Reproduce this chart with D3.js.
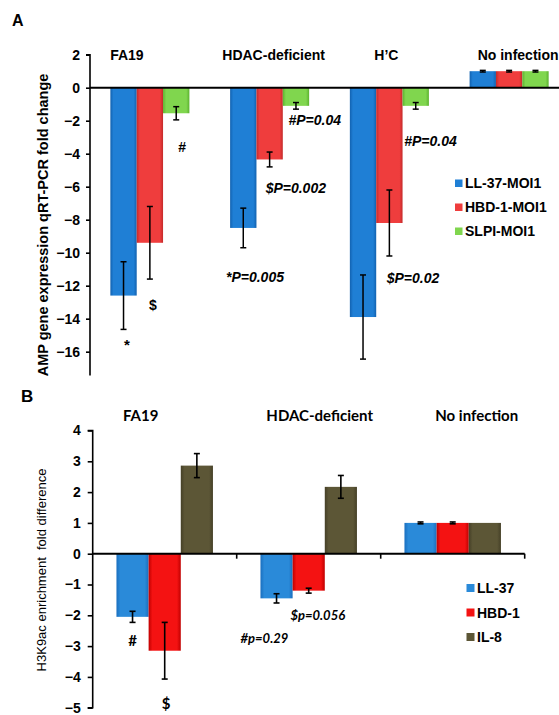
<!DOCTYPE html>
<html><head><meta charset="utf-8">
<script src="https://cdn.jsdelivr.net/npm/d3@7"></script>
<style>body{margin:0;background:#fff}svg{display:block}</style>
</head><body>
<svg id="c" width="559" height="715"></svg>
<script>
// ---------- Panel A data ----------
const groupsA = ["FA19", "HDAC-deficient", "H\u2019C", "No infection"];
const seriesA = ["LL-37-MOI1", "HBD-1-MOI1", "SLPI-MOI1"];
const valuesA_LL37 = [-12.6, -8.5, -13.9, 1.0];
const valuesA_HBD1 = [-9.4, -4.35, -8.2, 1.0];
const valuesA_SLPI = [-1.55, -1.1, -1.1, 1.0];
const errA_LL37 = [2.05, 1.2, 2.55, 0.05];
const errA_HBD1 = [2.2, 0.45, 2.0, 0.05];
const errA_SLPI = [0.4, 0.2, 0.2, 0.05];
const ticksA = [2, 0, -2, -4, -6, -8, -10, -12, -14, -16];
const annotA = [
  {text: "*", g: 0, s: 0, v: -15.9, italic: false},
  {text: "$", g: 0, s: 1, v: -13.48, italic: false},
  {text: "#", g: 0, s: 2, v: -3.87, italic: false},
  {text: "$P=0.002", g: 1, s: 1, v: -6.39, italic: true},
  {text: "#P=0.04", g: 1, s: 2, v: -2.29, italic: true},
  {text: "*P=0.005", g: 1, s: 0, v: -11.75, italic: true},
  {text: "#P=0.04", g: 2, s: 2, v: -3.56, italic: true},
  {text: "$P=0.02", g: 2, s: 1, v: -11.84, italic: true}
];
// ---------- Panel B data ----------
const groupsB = ["FA19", "HDAC-deficient", "No infection"];
const seriesB = ["LL-37", "HBD-1", "IL-8"];
const valuesB_LL37 = [-2.05, -1.45, 1.0];
const valuesB_HBD1 = [-3.15, -1.2, 1.0];
const valuesB_IL8 = [2.86, 2.17, 1.0];
const errB_LL37 = [0.18, 0.15, 0.03];
const errB_HBD1 = [0.92, 0.08, 0.03];
const errB_IL8 = [0.39, 0.37, 0.0];
const ticksB = [4, 3, 2, 1, 0, -1, -2, -3, -4, -5];
const annotB = [
  {text: "#", g: 0, s: 0, v: -3.01, italic: false},
  {text: "$", g: 0, s: 1, v: -5.03, italic: false},
  {text: "#p=0.29", g: 1, s: 0, v: -2.89, italic: true},
  {text: "$p=0.056", g: 1, s: 1, v: -2.15, italic: true}
];

const svg = d3.select("#c");
const defs = svg.append("defs");
function grad(id, dark, main) {
  const g = defs.append("linearGradient").attr("id", id).attr("x1", "0").attr("x2", "1").attr("y1", "0").attr("y2", "0");
  g.append("stop").attr("offset", "0%").attr("stop-color", dark);
  g.append("stop").attr("offset", "12%").attr("stop-color", main);
  g.append("stop").attr("offset", "88%").attr("stop-color", main);
  g.append("stop").attr("offset", "100%").attr("stop-color", dark);
}
grad("gA0", "#1262b0", "#1f7fd5");
grad("gA1", "#c42a2a", "#ef3d3d");
grad("gA2", "#5cb32f", "#80d64e");
grad("gB0", "#1a6fbf", "#2a8ad9");
grad("gB1", "#c00000", "#f41212");
grad("gB2", "#454027", "#5c5636");
const legendColA = ["#1f7fd5", "#ef3d3d", "#80d64e"];
const legendColB = ["#2a8ad9", "#f41212", "#5c5636"];

const arial = "'Liberation Sans', Arial, sans-serif";
const lato = "Lato, 'Open Sans', sans-serif";

// ================= PANEL A =================
(function () {
  const vals = [valuesA_LL37, valuesA_HBD1, valuesA_SLPI];
  const errs = [errA_LL37, errA_HBD1, errA_SLPI];
  const x0 = d3.scaleBand().domain(d3.range(groupsA.length)).range([90, 569]).paddingInner(0.34).paddingOuter(0.17);
  const x1 = d3.scaleBand().domain(d3.range(seriesA.length)).range([0, x0.bandwidth()]);
  const y = d3.scaleLinear().domain([-17.45, 2]).range([375.6, 54.7]);
  const g = svg.append("g");

  seriesA.forEach((s, si) => {
    g.selectAll(null).data(vals[si]).enter().append("rect")
      .attr("x", (d, i) => x0(i) + x1(si))
      .attr("width", x1.bandwidth())
      .attr("y", d => y(Math.max(0, d)))
      .attr("height", d => Math.abs(y(d) - y(0)))
      .attr("fill", `url(#gA${si})`);
  });
  seriesA.forEach((s, si) => {
    vals[si].forEach((d, i) => {
      const cx = x0(i) + x1(si) + x1.bandwidth() / 2;
      const e = errs[si][i];
      const eg = g.append("g").attr("stroke", "#000").attr("stroke-width", 1.5);
      eg.append("line").attr("x1", cx).attr("x2", cx).attr("y1", y(d - e)).attr("y2", y(d + e));
      eg.append("line").attr("x1", cx - 3).attr("x2", cx + 3).attr("y1", y(d - e)).attr("y2", y(d - e));
      eg.append("line").attr("x1", cx - 3).attr("x2", cx + 3).attr("y1", y(d + e)).attr("y2", y(d + e));
    });
  });
  const ax = g.append("g").attr("transform", "translate(90,0)")
    .call(d3.axisLeft(y).tickValues(ticksA).tickSize(4).tickPadding(6).tickFormat(d3.format("d")));
  ax.select(".domain").attr("stroke-width", 1.6).attr("d", `M-4,${y(2)}H0V${y(-17.45)}`);
  ax.selectAll(".tick line").attr("stroke-width", 1.6);
  ax.selectAll(".tick text").attr("font-family", arial).attr("font-weight", "bold").attr("font-size", "14px").attr("fill", "#000");
  g.append("line").attr("x1", 90).attr("x2", 559).attr("y1", y(0)).attr("y2", y(0)).attr("stroke", "#000").attr("stroke-width", 2);

  const labelDx = [-23, 4, -3, 9];
  g.selectAll(null).data(groupsA).enter().append("text")
    .attr("x", (d, i) => x0(i) + x0.bandwidth() / 2 + labelDx[i])
    .attr("y", 60).attr("text-anchor", "middle")
    .attr("font-family", arial).attr("font-weight", "bold").attr("font-size", "14px")
    .text(d => d);

  const annDx = [3.5, 3, 6, -4, -7.5, -17.3, -11.5, -2.7];
  annotA.forEach((a, k) => {
    const cx = x0(a.g) + x1(a.s) + x1.bandwidth() / 2 + annDx[k];
    g.append("text").attr("x", cx).attr("y", y(a.v))
      .attr("text-anchor", a.italic ? "start" : "middle")
      .attr("font-family", arial).attr("font-weight", "bold")
      .attr("font-style", a.italic ? "italic" : "normal")
      .attr("font-size", a.text === "*" ? "15px" : "14px").text(a.text);
  });

  seriesA.forEach((s, si) => {
    const ly = 183 + si * 24;
    g.append("rect").attr("x", 455).attr("y", ly - 3.5).attr("width", 7.5).attr("height", 7.5).attr("fill", legendColA[si]);
    g.append("text").attr("x", 465).attr("y", ly + 5).attr("font-family", arial).attr("font-weight", "bold").attr("font-size", "14px").text(s);
  });

  g.append("text").attr("transform", "translate(48,225) rotate(-90)").attr("text-anchor", "middle")
    .attr("font-family", arial).attr("font-weight", "bold").attr("font-size", "14.5px")
    .text("AMP gene expression qRT-PCR fold change");
  g.append("text").attr("x", 12).attr("y", 26).attr("font-family", arial).attr("font-weight", "bold").attr("font-size", "16px").text("A");
})();

// ================= PANEL B =================
(function () {
  const vals = [valuesB_LL37, valuesB_HBD1, valuesB_IL8];
  const errs = [errB_LL37, errB_HBD1, errB_IL8];
  const x0 = d3.scaleBand().domain(d3.range(groupsB.length)).range([92.7, 524.7]).paddingInner(0.33).paddingOuter(0.165);
  const x1 = d3.scaleBand().domain(d3.range(seriesB.length)).range([0, x0.bandwidth()]);
  const y = d3.scaleLinear().domain([-5, 4]).range([707.7, 430.5]);
  const g = svg.append("g");

  seriesB.forEach((s, si) => {
    g.selectAll(null).data(vals[si]).enter().append("rect")
      .attr("x", (d, i) => x0(i) + x1(si))
      .attr("width", x1.bandwidth())
      .attr("y", d => y(Math.max(0, d)))
      .attr("height", d => Math.abs(y(d) - y(0)))
      .attr("fill", `url(#gB${si})`);
  });
  seriesB.forEach((s, si) => {
    vals[si].forEach((d, i) => {
      const e = errs[si][i];
      if (e <= 0) return;
      const cx = x0(i) + x1(si) + x1.bandwidth() / 2;
      const eg = g.append("g").attr("stroke", "#000").attr("stroke-width", 1.6);
      eg.append("line").attr("x1", cx).attr("x2", cx).attr("y1", y(d - e)).attr("y2", y(d + e));
      eg.append("line").attr("x1", cx - 3).attr("x2", cx + 3).attr("y1", y(d - e)).attr("y2", y(d - e));
      eg.append("line").attr("x1", cx - 3).attr("x2", cx + 3).attr("y1", y(d + e)).attr("y2", y(d + e));
    });
  });
  const ax = g.append("g").attr("transform", "translate(92.7,0)")
    .call(d3.axisLeft(y).tickValues(ticksB).tickSize(5).tickPadding(7).tickFormat(d3.format("d")));
  ax.select(".domain").attr("stroke-width", 1.6).attr("d", `M-5,${y(4)}H0V${y(-5)}H-5`);
  ax.selectAll(".tick line").attr("stroke-width", 1.6);
  ax.selectAll(".tick text").attr("font-family", arial).attr("font-weight", "bold").attr("font-size", "14px").attr("fill", "#000");
  // zero axis with ticks at group boundaries
  g.append("line").attr("x1", 92.7).attr("x2", 524.7).attr("y1", y(0)).attr("y2", y(0)).attr("stroke", "#000").attr("stroke-width", 2);
  d3.range(groupsB.length).forEach(i => {
    const bx = x0(i) + x0.bandwidth() + x0.step() * 0.165;
    g.append("line").attr("x1", bx).attr("x2", bx).attr("y1", y(0)).attr("y2", y(0) + 5).attr("stroke", "#000").attr("stroke-width", 1.6);
  });

  const labelDx = [-24, 11, 24];
  g.selectAll(null).data(groupsB).enter().append("text")
    .attr("x", (d, i) => x0(i) + x0.bandwidth() / 2 + labelDx[i])
    .attr("y", 421).attr("text-anchor", "middle")
    .attr("font-family", lato).attr("font-weight", "bold").attr("font-size", "15px")
    .text(d => d);

  const annDx = [0, 1.5, -36, -18.3];
  annotB.forEach((a, k) => {
    const cx = x0(a.g) + x1(a.s) + x1.bandwidth() / 2 + annDx[k];
    g.append("text").attr("x", cx).attr("y", y(a.v))
      .attr("text-anchor", a.italic ? "start" : "middle")
      .attr("font-family", lato).attr("font-weight", "bold")
      .attr("font-style", a.italic ? "italic" : "normal")
      .attr("font-size", a.italic ? "13px" : "15px").text(a.text);
  });

  seriesB.forEach((s, si) => {
    const ly = 588 + si * 24.5;
    g.append("rect").attr("x", 466.5).attr("y", ly - 4).attr("width", 8).attr("height", 8).attr("fill", legendColB[si]);
    g.append("text").attr("x", 477).attr("y", ly + 5).attr("font-family", arial).attr("font-weight", "bold").attr("font-size", "14px").text(s);
  });

  g.append("text").attr("transform", "translate(46,570) rotate(-90)").attr("text-anchor", "middle")
    .attr("font-family", arial).attr("font-size", "13px")
    .text("H3K9ac enrichment\u00a0 fold difference");
  g.append("text").attr("x", 21).attr("y", 402).attr("font-family", arial).attr("font-weight", "bold").attr("font-size", "17px").text("B");
})();
</script>
</body></html>
